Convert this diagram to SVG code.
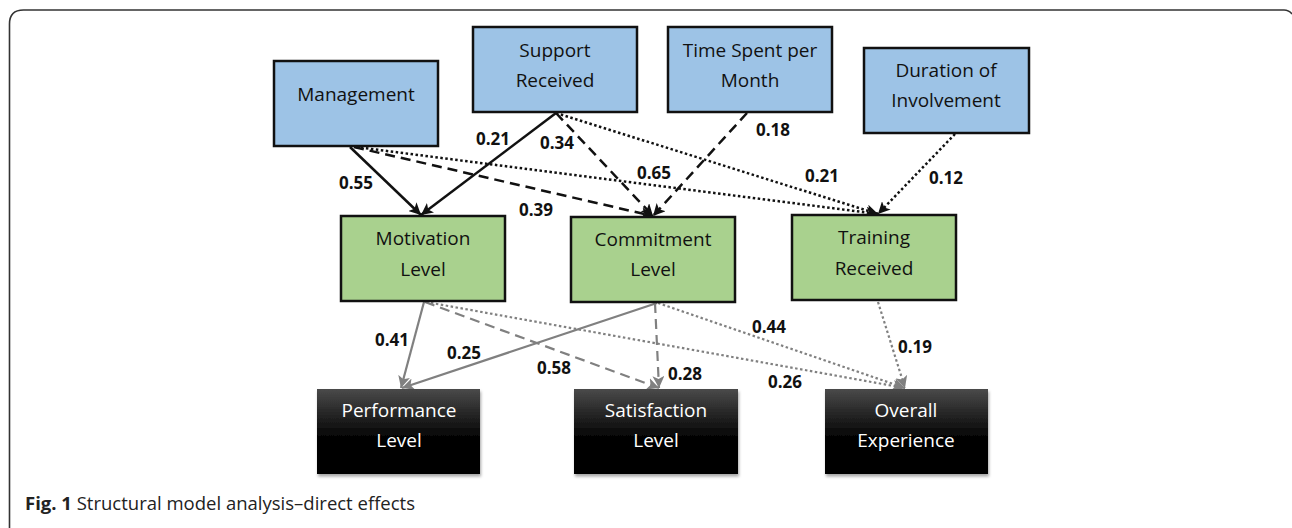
<svg xmlns="http://www.w3.org/2000/svg" width="1292" height="528" viewBox="0 0 1292 528">
<style>
.blue{fill:#9DC3E6;stroke:#111;stroke-width:2.5}
.green{fill:#A9D18E;stroke:#111;stroke-width:2.5}
.dark{fill:url(#g);filter:url(#sh)}
.t{font-family:"Open Sans",sans-serif;font-size:19px;text-anchor:middle;fill:#111}
.tw{font-family:"Open Sans",sans-serif;font-size:19px;text-anchor:middle;fill:#fff}
.lab{font-family:"Open Sans",sans-serif;font-size:17px;font-weight:bold;text-anchor:middle;fill:#111}
.k{fill:none;stroke:#111;stroke-width:2.5}
.g{fill:none;stroke:#808080;stroke-width:2.2}
.dash{stroke-dasharray:10,6}
.dot{stroke-dasharray:2.5,2.5}
.cap{font-family:"Open Sans",sans-serif;font-size:18.5px;fill:#222}
</style>
<defs>
<linearGradient id="g" x1="0" y1="0" x2="0" y2="1">
<stop offset="0" stop-color="#4a4a4a"/>
<stop offset="0.6" stop-color="#000"/>
<stop offset="1" stop-color="#000"/>
</linearGradient>
<filter id="sh" x="-10%" y="-10%" width="125%" height="130%">
<feDropShadow dx="1" dy="2.5" stdDeviation="1.5" flood-color="#000" flood-opacity="0.35"/>
</filter>
<marker id="ak" markerUnits="userSpaceOnUse" markerWidth="14" markerHeight="12" refX="12" refY="6" orient="auto">
<path d="M0,0 L12,6 L0,12 L3,6 Z" fill="#111"/>
</marker>
<marker id="ag" markerUnits="userSpaceOnUse" markerWidth="14" markerHeight="12" refX="12" refY="6" orient="auto">
<path d="M0,0 L12,6 L0,12 L3,6 Z" fill="#808080"/>
</marker>
</defs>
<rect width="1292" height="528" fill="#fff"/>
<path d="M9.5,528 V24 Q9.5,10 23.5,10 H1284 Q1289,10 1292,14" fill="none" stroke="#333" stroke-width="1.6"/>

<g id="connectors">
<line class="k" x1="350" y1="147" x2="421" y2="215" marker-end="url(#ak)"/>
<line class="k" x1="556" y1="113" x2="421" y2="215" marker-end="url(#ak)"/>
<line class="k dash" x1="556" y1="113" x2="653" y2="216" marker-end="url(#ak)"/>
<line class="k dot" x1="556" y1="113" x2="878" y2="214" marker-end="url(#ak)"/>
<line class="k dash" x1="354" y1="147" x2="653" y2="216" marker-end="url(#ak)"/>
<line class="k dot" x1="356" y1="147" x2="878" y2="214" marker-end="url(#ak)"/>
<line class="k dash" x1="747" y1="113" x2="653" y2="216" marker-end="url(#ak)"/>
<line class="k dot" x1="955" y1="134" x2="878" y2="214" marker-end="url(#ak)"/>

<line class="g" x1="424" y1="302" x2="401" y2="388" marker-end="url(#ag)"/>
<line class="g" x1="657" y1="303" x2="402" y2="388" marker-end="url(#ag)"/>
<line class="g dash" x1="425" y1="302" x2="659" y2="388" marker-end="url(#ag)"/>
<line class="g dash" x1="655" y1="303" x2="659" y2="388" marker-end="url(#ag)"/>
<line class="g dot" x1="426" y1="302" x2="905" y2="388" marker-end="url(#ag)"/>
<line class="g dot" x1="658" y1="303" x2="905" y2="388" marker-end="url(#ag)"/>
<line class="g dot" x1="878" y1="302" x2="905" y2="388" marker-end="url(#ag)"/>
</g>

<g id="labels">
<text class="lab" x="493" y="145">0.21</text>
<text class="lab" x="557" y="149">0.34</text>
<text class="lab" x="356" y="189">0.55</text>
<text class="lab" x="654" y="179">0.65</text>
<text class="lab" x="536" y="216">0.39</text>
<text class="lab" x="773" y="136">0.18</text>
<text class="lab" x="822" y="182">0.21</text>
<text class="lab" x="946" y="184">0.12</text>
<text class="lab" x="392" y="346">0.41</text>
<text class="lab" x="464" y="359">0.25</text>
<text class="lab" x="554" y="374">0.58</text>
<text class="lab" x="685" y="380">0.28</text>
<text class="lab" x="769" y="333">0.44</text>
<text class="lab" x="915" y="353">0.19</text>
<text class="lab" x="785" y="388">0.26</text>
</g>

<g id="management"><rect class="blue" x="274" y="61" width="164" height="85"/><text class="t" x="356" y="101">Management</text></g>
<g id="support"><rect class="blue" x="473" y="27" width="164" height="85"/><text class="t" x="555" y="57">Support</text><text class="t" x="555" y="87">Received</text></g>
<g id="time"><rect class="blue" x="668" y="27" width="164" height="85"/><text class="t" x="750" y="57">Time Spent per</text><text class="t" x="750" y="87">Month</text></g>
<g id="duration"><rect class="blue" x="864" y="48" width="165" height="85"/><text class="t" x="946" y="77">Duration of</text><text class="t" x="946" y="107">Involvement</text></g>

<g id="motivation"><rect class="green" x="341" y="216" width="164" height="85"/><text class="t" x="423" y="245">Motivation</text><text class="t" x="423" y="276">Level</text></g>
<g id="commitment"><rect class="green" x="571" y="217" width="164" height="85"/><text class="t" x="653" y="246">Commitment</text><text class="t" x="653" y="276">Level</text></g>
<g id="training"><rect class="green" x="792" y="215" width="164" height="85"/><text class="t" x="874" y="244">Training</text><text class="t" x="874" y="275">Received</text></g>

<g id="performance"><rect class="dark" x="317" y="389" width="163" height="85"/><text class="tw" x="399" y="417">Performance</text><text class="tw" x="399" y="447">Level</text></g>
<g id="satisfaction"><rect class="dark" x="574" y="389" width="164" height="85"/><text class="tw" x="656" y="417">Satisfaction</text><text class="tw" x="656" y="447">Level</text></g>
<g id="overall"><rect class="dark" x="825" y="389" width="163" height="85"/><text class="tw" x="906" y="417">Overall</text><text class="tw" x="906" y="447">Experience</text></g>

<text class="cap" x="25" y="510"><tspan font-weight="bold">Fig. 1</tspan> Structural model analysis–direct effects</text>
</svg>
